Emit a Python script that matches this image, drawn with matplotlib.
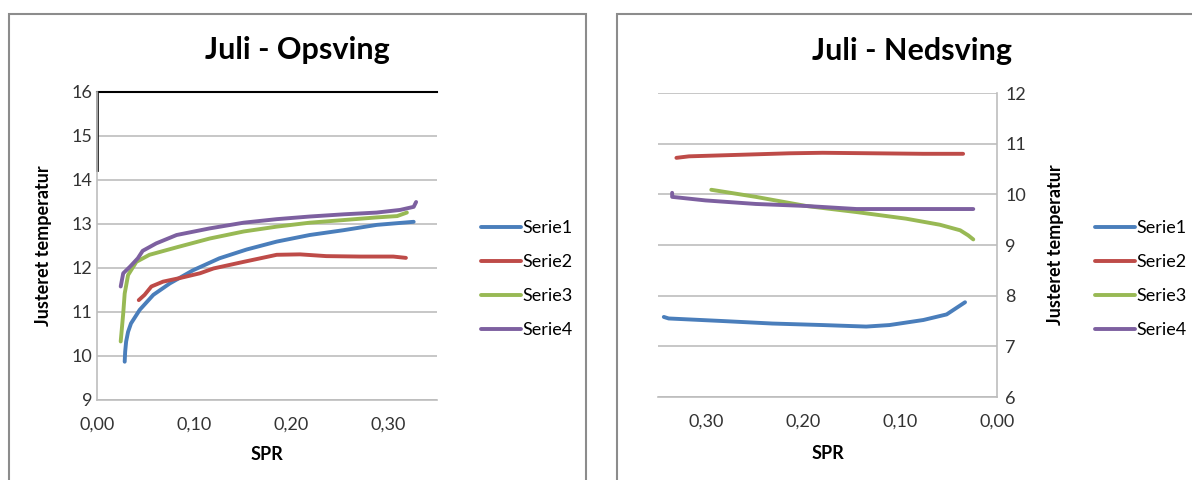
import matplotlib
matplotlib.use("Agg")
import matplotlib.pyplot as plt
from matplotlib.patches import Rectangle

plt.rcParams["font.family"] = ["Lato", "DejaVu Sans"]

# Excel 2007 default series colours
BLUE = "#4a7ebb"
RED = "#be4b48"
GREEN = "#98b954"
PURPLE = "#7d60a0"
GRID = "#bdbdbd"
TEXT = "#333333"

SERIES = ["Serie1", "Serie2", "Serie3", "Serie4"]
COLORS = [BLUE, RED, GREEN, PURPLE]

X_TICKS = [0.0, 0.1, 0.2, 0.3]
X_TICK_LABELS = ["0,00", "0,10", "0,20", "0,30"]

# --- Juli - Opsving (left) ---
up_x1 = [0.0285, 0.029, 0.030, 0.032, 0.035, 0.044, 0.058, 0.075, 0.099, 0.126, 0.154, 0.185, 0.219, 0.254, 0.288, 0.326]
up_y1 = [9.87, 10.10, 10.33, 10.55, 10.74, 11.05, 11.39, 11.65, 11.95, 12.22, 12.42, 12.60, 12.75, 12.86, 12.98, 13.05]
up_x2 = [0.043, 0.049, 0.056, 0.068, 0.085, 0.106, 0.120, 0.151, 0.185, 0.209, 0.236, 0.271, 0.305, 0.318]
up_y2 = [11.27, 11.39, 11.58, 11.69, 11.77, 11.88, 11.99, 12.14, 12.30, 12.31, 12.27, 12.26, 12.26, 12.23]
up_x3 = [0.0244, 0.027, 0.0285, 0.032, 0.0405, 0.054, 0.082, 0.116, 0.151, 0.185, 0.219, 0.254, 0.288, 0.309, 0.319]
up_y3 = [10.33, 10.97, 11.42, 11.84, 12.14, 12.30, 12.47, 12.67, 12.83, 12.94, 13.03, 13.09, 13.15, 13.18, 13.26]
up_x4 = [0.0244, 0.027, 0.034, 0.042, 0.047, 0.061, 0.082, 0.116, 0.151, 0.185, 0.219, 0.254, 0.288, 0.312, 0.326, 0.3285]
up_y4 = [11.58, 11.88, 12.03, 12.22, 12.39, 12.56, 12.75, 12.90, 13.03, 13.11, 13.17, 13.22, 13.26, 13.32, 13.39, 13.50]

# --- Juli - Nedsving (right) ---
down_x1 = [0.344, 0.339, 0.284, 0.232, 0.180, 0.135, 0.111, 0.076, 0.052, 0.033]
down_y1 = [7.58, 7.55, 7.50, 7.45, 7.42, 7.39, 7.42, 7.52, 7.63, 7.87]
down_x2 = [0.331, 0.318, 0.266, 0.2145, 0.180, 0.128, 0.076, 0.035]
down_y2 = [10.72, 10.75, 10.78, 10.81, 10.82, 10.81, 10.80, 10.80]
down_x3 = [0.295, 0.249, 0.197, 0.145, 0.094, 0.059, 0.038, 0.0297, 0.0245]
down_y3 = [10.09, 9.95, 9.77, 9.65, 9.52, 9.40, 9.29, 9.19, 9.11]
down_x4 = [0.3354, 0.3354, 0.301, 0.249, 0.197, 0.145, 0.094, 0.0245]
down_y4 = [10.03, 9.95, 9.88, 9.81, 9.77, 9.71, 9.71, 9.71]


def style_axes(ax, ylim, yticks):
    ax.set_xlim(0, 0.35)
    ax.set_ylim(*ylim)
    ax.set_xticks(X_TICKS)
    ax.set_xticklabels(X_TICK_LABELS)
    ax.set_yticks(yticks)
    ax.set_yticklabels([str(t) for t in yticks])
    ax.grid(axis="y", color=GRID, linewidth=1.2)
    ax.set_axisbelow(True)
    for side in ("top", "left", "right", "bottom"):
        ax.spines[side].set_visible(False)
    ax.spines["bottom"].set_visible(True)
    ax.spines["bottom"].set_color(GRID)
    ax.spines["bottom"].set_linewidth(1.2)
    ax.tick_params(length=0, labelsize=13, colors=TEXT)
    ax.tick_params(axis="x", pad=12)
    ax.set_xlabel("SPR", fontsize=13, fontweight="bold")
    ax.set_ylabel("Justeret temperatur", fontsize=13, fontweight="bold")


def add_legend(ax, anchor):
    ax.legend(loc="center left", bbox_to_anchor=anchor, frameon=False,
              fontsize=13, handlelength=2.2, handletextpad=0.1, labelspacing=1.0,
              borderpad=0, borderaxespad=0)


fig = plt.figure(figsize=(11.92, 4.8), dpi=100)

# chart frames
fig.patches.append(Rectangle((9 / 1192, -0.1), 577 / 1192, 1.1 - 14 / 480,
                             transform=fig.transFigure, fill=False,
                             edgecolor="#8c8c8c", linewidth=1.5))
fig.patches.append(Rectangle((617 / 1192, -0.1), 0.6, 1.1 - 14 / 480,
                             transform=fig.transFigure, fill=False,
                             edgecolor="#8c8c8c", linewidth=1.5))

# left chart
ax1 = fig.add_axes([97 / 1192, 80 / 480, 340 / 1192, 308 / 480])
style_axes(ax1, (9, 16), [9, 10, 11, 12, 13, 14, 15, 16])
ax1.spines["left"].set_visible(True)
ax1.spines["left"].set_color(GRID)
ax1.spines["left"].set_linewidth(1.2)
ax1.axhline(16, color="black", linewidth=1.5, clip_on=False)
ax1.axvline(0, ymin=(14.23 - 9) / 7, ymax=1, color="#222222", linewidth=2.0, clip_on=False)
for x, y, c, name in zip([up_x1, up_x2, up_x3, up_x4], [up_y1, up_y2, up_y3, up_y4], COLORS, SERIES):
    ax1.plot(x, y, color=c, linewidth=2.8, label=name, solid_capstyle="round")
ax1.xaxis.set_label_coords(0.5, -0.149)
ax1.yaxis.set_label_coords(-0.132, 0.5)
add_legend(ax1, (1.129, 0.393))
fig.text(297 / 1192, 1 - 50 / 480, "Juli - Opsving", ha="center", va="center",
         fontsize=22, fontweight="bold")

# right chart (reversed x, y axis on the right)
ax2 = fig.add_axes([658 / 1192, 83 / 480, 339 / 1192, 304 / 480])
style_axes(ax2, (6, 12), [6, 7, 8, 9, 10, 11, 12])
ax2.set_xlim(0.35, 0)
ax2.spines["right"].set_visible(True)
ax2.spines["right"].set_color(GRID)
ax2.spines["right"].set_linewidth(1.2)
ax2.yaxis.tick_right()
ax2.yaxis.set_label_position("right")
ax2.tick_params(axis="y", pad=6)
for x, y, c, name in zip([down_x1, down_x2, down_x3, down_x4], [down_y1, down_y2, down_y3, down_y4], COLORS, SERIES):
    ax2.plot(x, y, color=c, linewidth=2.8, label=name, solid_capstyle="round")
ax2.xaxis.set_label_coords(0.5, -0.158)
ax2.yaxis.set_label_coords(1.1475, 0.5)
add_legend(ax2, (1.289, 0.388))
fig.text(912 / 1192, 1 - 51 / 480, "Juli - Nedsving", ha="center", va="center",
         fontsize=22, fontweight="bold")

fig.savefig("out.png", dpi=100)
